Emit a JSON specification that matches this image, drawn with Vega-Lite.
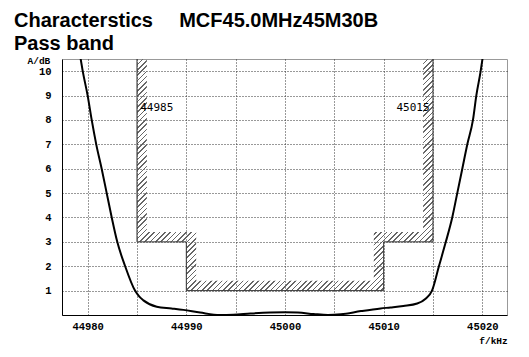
{
  "$schema": "https://vega.github.io/schema/vega-lite/v6.json",
  "width": 445,
  "height": 256,
  "autosize": "none",
  "padding": {"left": 62, "top": 59, "right": 22, "bottom": 42},
  "background": "white",
  "config": {
    "view": {"stroke": "#999", "strokeWidth": 1},
    "axis": {
      "domainColor": "#000", "domainWidth": 1, "ticks": false,
      "gridColor": "#333", "gridDash": [1, 2], "gridWidth": 1, "gridOpacity": 1,
      "labelFont": "Liberation Mono", "labelFontWeight": "bold", "labelFontSize": 10.5, "labelColor": "#000",
      "titleFont": "Liberation Mono", "titleFontWeight": "bold", "titleFontSize": 9.5, "titleColor": "#000"
    }
  },
  "title": {
    "text": ["Characterstics\u00a0\u00a0\u00a0\u00a0\u2009MCF45.0MHz45M30B", "Pass band"],
    "anchor": "start", "frame": "group", "dx": -48, "dy": 7, "offset": 8,
    "font": "Liberation Sans", "fontSize": 20, "fontWeight": "bold", "color": "#000", "lineHeight": 23
  },
  "datasets": {
    "curve": [
      {"f": 44979.25, "a": 10.6}, {"f": 44979.5, "a": 10}, {"f": 44980.0, "a": 9}, {"f": 44980.41, "a": 8},
      {"f": 44980.87, "a": 7}, {"f": 44981.42, "a": 6}, {"f": 44981.93, "a": 5}, {"f": 44982.44, "a": 4},
      {"f": 44983.0, "a": 3}, {"f": 44983.8, "a": 2}, {"f": 44984.8, "a": 1}, {"f": 44985.24, "a": 0.75},
      {"f": 44985.65, "a": 0.6}, {"f": 44987.0, "a": 0.34}, {"f": 44988.5, "a": 0.27}, {"f": 44989.7, "a": 0.21},
      {"f": 44991.4, "a": 0.1}, {"f": 44993.4, "a": 0.0}, {"f": 44994.75, "a": 0.01}, {"f": 44996.5, "a": 0.06},
      {"f": 44998.5, "a": 0.1}, {"f": 45000.0, "a": 0.11}, {"f": 45001.3, "a": 0.1}, {"f": 45002.9, "a": 0.04},
      {"f": 45004.35, "a": 0.0}, {"f": 45005.67, "a": 0.03}, {"f": 45007.7, "a": 0.16}, {"f": 45009.7, "a": 0.27},
      {"f": 45010.7, "a": 0.31}, {"f": 45012.0, "a": 0.37}, {"f": 45013.4, "a": 0.47}, {"f": 45014.25, "a": 0.67},
      {"f": 45014.9, "a": 1}, {"f": 45015.6, "a": 2}, {"f": 45016.3, "a": 3}, {"f": 45016.95, "a": 4},
      {"f": 45017.46, "a": 5}, {"f": 45017.97, "a": 6}, {"f": 45018.48, "a": 7}, {"f": 45019.05, "a": 8},
      {"f": 45019.39, "a": 9}, {"f": 45019.83, "a": 10}, {"f": 45020.05, "a": 10.6}
    ],
    "mask": [
      {"i": 0, "f": 44985, "a": 10.5}, {"i": 1, "f": 44985, "a": 3}, {"i": 2, "f": 44990, "a": 3},
      {"i": 3, "f": 44990, "a": 1}, {"i": 4, "f": 45010, "a": 1}, {"i": 5, "f": 45010, "a": 3},
      {"i": 6, "f": 45015, "a": 3}, {"i": 7, "f": 45015, "a": 10.5}
    ],
    "hatch": [
      {"f": 44985, "lo": 3, "hi": 10.5}, {"f": 44986, "lo": 3, "hi": 3.4}, {"f": 44990, "lo": 1, "hi": 3.4},
      {"f": 44991, "lo": 1, "hi": 1.4}, {"f": 45009, "lo": 1, "hi": 3.4}, {"f": 45010, "lo": 3, "hi": 3.4},
      {"f": 45014, "lo": 3, "hi": 10.5}, {"f": 45015, "lo": 3, "hi": 10.5}
    ],
    "labelLeft": [{"f": 44985.32, "a": 8.5, "t": "44985"}],
    "labelRight": [{"f": 45014.65, "a": 8.5, "t": "45015"}]
  },
  "encoding": {
    "x": {
      "field": "f", "type": "quantitative",
      "scale": {"domain": [44977.4, 45022.5], "nice": false, "zero": false},
      "axis": {
        "values": [44980, 44985, 44990, 44995, 45000, 45005, 45010, 45015, 45020],
        "format": "d", "labelExpr": "datum.value % 10 === 0 ? datum.label : ''",
        "labelPadding": 6, "labelFlush": false, "labelOverlap": false,
        "title": "f/kHz", "titleX": 431, "titleY": 25, "titleAlign": "center", "titleBaseline": "middle"
      }
    },
    "y": {
      "field": "a", "type": "quantitative",
      "scale": {"domain": [0, 10.5], "nice": false, "zero": false},
      "axis": {
        "values": [1, 2, 3, 4, 5, 6, 7, 8, 9, 10], "format": "d", "labelPadding": 11,
        "title": "A/dB", "titleAngle": 0, "titleX": -35, "titleY": 1, "titleAlign": "left", "titleBaseline": "middle"
      }
    }
  },
  "layer": [
    {
      "data": {"name": "hatch"},
      "mark": {
        "type": "area", "interpolate": "step-after", "clip": true,
        "fill": {
          "gradient": "linear", "x1": 0, "y1": 0, "x2": 1.1056, "y2": 0.865,
          "stops": [
{"offset":0.00,"color":"#666"},{"offset":0.003,"color":"#666"},{"offset":0.003,"color":"transparent"},{"offset":0.01,"color":"transparent"},
{"offset":0.01,"color":"#666"},{"offset":0.013,"color":"#666"},{"offset":0.013,"color":"transparent"},{"offset":0.02,"color":"transparent"},
{"offset":0.02,"color":"#666"},{"offset":0.023,"color":"#666"},{"offset":0.023,"color":"transparent"},{"offset":0.03,"color":"transparent"},
{"offset":0.03,"color":"#666"},{"offset":0.033,"color":"#666"},{"offset":0.033,"color":"transparent"},{"offset":0.04,"color":"transparent"},
{"offset":0.04,"color":"#666"},{"offset":0.043,"color":"#666"},{"offset":0.043,"color":"transparent"},{"offset":0.05,"color":"transparent"},
{"offset":0.05,"color":"#666"},{"offset":0.053,"color":"#666"},{"offset":0.053,"color":"transparent"},{"offset":0.06,"color":"transparent"},
{"offset":0.06,"color":"#666"},{"offset":0.063,"color":"#666"},{"offset":0.063,"color":"transparent"},{"offset":0.07,"color":"transparent"},
{"offset":0.07,"color":"#666"},{"offset":0.073,"color":"#666"},{"offset":0.073,"color":"transparent"},{"offset":0.08,"color":"transparent"},
{"offset":0.08,"color":"#666"},{"offset":0.083,"color":"#666"},{"offset":0.083,"color":"transparent"},{"offset":0.09,"color":"transparent"},
{"offset":0.09,"color":"#666"},{"offset":0.093,"color":"#666"},{"offset":0.093,"color":"transparent"},{"offset":0.10,"color":"transparent"},
{"offset":0.10,"color":"#666"},{"offset":0.103,"color":"#666"},{"offset":0.103,"color":"transparent"},{"offset":0.11,"color":"transparent"},
{"offset":0.11,"color":"#666"},{"offset":0.113,"color":"#666"},{"offset":0.113,"color":"transparent"},{"offset":0.12,"color":"transparent"},
{"offset":0.12,"color":"#666"},{"offset":0.123,"color":"#666"},{"offset":0.123,"color":"transparent"},{"offset":0.13,"color":"transparent"},
{"offset":0.13,"color":"#666"},{"offset":0.133,"color":"#666"},{"offset":0.133,"color":"transparent"},{"offset":0.14,"color":"transparent"},
{"offset":0.14,"color":"#666"},{"offset":0.143,"color":"#666"},{"offset":0.143,"color":"transparent"},{"offset":0.15,"color":"transparent"},
{"offset":0.15,"color":"#666"},{"offset":0.153,"color":"#666"},{"offset":0.153,"color":"transparent"},{"offset":0.16,"color":"transparent"},
{"offset":0.16,"color":"#666"},{"offset":0.163,"color":"#666"},{"offset":0.163,"color":"transparent"},{"offset":0.17,"color":"transparent"},
{"offset":0.17,"color":"#666"},{"offset":0.173,"color":"#666"},{"offset":0.173,"color":"transparent"},{"offset":0.18,"color":"transparent"},
{"offset":0.18,"color":"#666"},{"offset":0.183,"color":"#666"},{"offset":0.183,"color":"transparent"},{"offset":0.19,"color":"transparent"},
{"offset":0.19,"color":"#666"},{"offset":0.193,"color":"#666"},{"offset":0.193,"color":"transparent"},{"offset":0.20,"color":"transparent"},
{"offset":0.20,"color":"#666"},{"offset":0.203,"color":"#666"},{"offset":0.203,"color":"transparent"},{"offset":0.21,"color":"transparent"},
{"offset":0.21,"color":"#666"},{"offset":0.213,"color":"#666"},{"offset":0.213,"color":"transparent"},{"offset":0.22,"color":"transparent"},
{"offset":0.22,"color":"#666"},{"offset":0.223,"color":"#666"},{"offset":0.223,"color":"transparent"},{"offset":0.23,"color":"transparent"},
{"offset":0.23,"color":"#666"},{"offset":0.233,"color":"#666"},{"offset":0.233,"color":"transparent"},{"offset":0.24,"color":"transparent"},
{"offset":0.24,"color":"#666"},{"offset":0.243,"color":"#666"},{"offset":0.243,"color":"transparent"},{"offset":0.25,"color":"transparent"},
{"offset":0.25,"color":"#666"},{"offset":0.253,"color":"#666"},{"offset":0.253,"color":"transparent"},{"offset":0.26,"color":"transparent"},
{"offset":0.26,"color":"#666"},{"offset":0.263,"color":"#666"},{"offset":0.263,"color":"transparent"},{"offset":0.27,"color":"transparent"},
{"offset":0.27,"color":"#666"},{"offset":0.273,"color":"#666"},{"offset":0.273,"color":"transparent"},{"offset":0.28,"color":"transparent"},
{"offset":0.28,"color":"#666"},{"offset":0.283,"color":"#666"},{"offset":0.283,"color":"transparent"},{"offset":0.29,"color":"transparent"},
{"offset":0.29,"color":"#666"},{"offset":0.293,"color":"#666"},{"offset":0.293,"color":"transparent"},{"offset":0.30,"color":"transparent"},
{"offset":0.30,"color":"#666"},{"offset":0.303,"color":"#666"},{"offset":0.303,"color":"transparent"},{"offset":0.31,"color":"transparent"},
{"offset":0.31,"color":"#666"},{"offset":0.313,"color":"#666"},{"offset":0.313,"color":"transparent"},{"offset":0.32,"color":"transparent"},
{"offset":0.32,"color":"#666"},{"offset":0.323,"color":"#666"},{"offset":0.323,"color":"transparent"},{"offset":0.33,"color":"transparent"},
{"offset":0.33,"color":"#666"},{"offset":0.333,"color":"#666"},{"offset":0.333,"color":"transparent"},{"offset":0.34,"color":"transparent"},
{"offset":0.34,"color":"#666"},{"offset":0.343,"color":"#666"},{"offset":0.343,"color":"transparent"},{"offset":0.35,"color":"transparent"},
{"offset":0.35,"color":"#666"},{"offset":0.353,"color":"#666"},{"offset":0.353,"color":"transparent"},{"offset":0.36,"color":"transparent"},
{"offset":0.36,"color":"#666"},{"offset":0.363,"color":"#666"},{"offset":0.363,"color":"transparent"},{"offset":0.37,"color":"transparent"},
{"offset":0.37,"color":"#666"},{"offset":0.373,"color":"#666"},{"offset":0.373,"color":"transparent"},{"offset":0.38,"color":"transparent"},
{"offset":0.38,"color":"#666"},{"offset":0.383,"color":"#666"},{"offset":0.383,"color":"transparent"},{"offset":0.39,"color":"transparent"},
{"offset":0.39,"color":"#666"},{"offset":0.393,"color":"#666"},{"offset":0.393,"color":"transparent"},{"offset":0.40,"color":"transparent"},
{"offset":0.40,"color":"#666"},{"offset":0.403,"color":"#666"},{"offset":0.403,"color":"transparent"},{"offset":0.41,"color":"transparent"},
{"offset":0.41,"color":"#666"},{"offset":0.413,"color":"#666"},{"offset":0.413,"color":"transparent"},{"offset":0.42,"color":"transparent"},
{"offset":0.42,"color":"#666"},{"offset":0.423,"color":"#666"},{"offset":0.423,"color":"transparent"},{"offset":0.43,"color":"transparent"},
{"offset":0.43,"color":"#666"},{"offset":0.433,"color":"#666"},{"offset":0.433,"color":"transparent"},{"offset":0.44,"color":"transparent"},
{"offset":0.44,"color":"#666"},{"offset":0.443,"color":"#666"},{"offset":0.443,"color":"transparent"},{"offset":0.45,"color":"transparent"},
{"offset":0.45,"color":"#666"},{"offset":0.453,"color":"#666"},{"offset":0.453,"color":"transparent"},{"offset":0.46,"color":"transparent"},
{"offset":0.46,"color":"#666"},{"offset":0.463,"color":"#666"},{"offset":0.463,"color":"transparent"},{"offset":0.47,"color":"transparent"},
{"offset":0.47,"color":"#666"},{"offset":0.473,"color":"#666"},{"offset":0.473,"color":"transparent"},{"offset":0.48,"color":"transparent"},
{"offset":0.48,"color":"#666"},{"offset":0.483,"color":"#666"},{"offset":0.483,"color":"transparent"},{"offset":0.49,"color":"transparent"},
{"offset":0.49,"color":"#666"},{"offset":0.493,"color":"#666"},{"offset":0.493,"color":"transparent"},{"offset":0.50,"color":"transparent"},
{"offset":0.50,"color":"#666"},{"offset":0.503,"color":"#666"},{"offset":0.503,"color":"transparent"},{"offset":0.51,"color":"transparent"},
{"offset":0.51,"color":"#666"},{"offset":0.513,"color":"#666"},{"offset":0.513,"color":"transparent"},{"offset":0.52,"color":"transparent"},
{"offset":0.52,"color":"#666"},{"offset":0.523,"color":"#666"},{"offset":0.523,"color":"transparent"},{"offset":0.53,"color":"transparent"},
{"offset":0.53,"color":"#666"},{"offset":0.533,"color":"#666"},{"offset":0.533,"color":"transparent"},{"offset":0.54,"color":"transparent"},
{"offset":0.54,"color":"#666"},{"offset":0.543,"color":"#666"},{"offset":0.543,"color":"transparent"},{"offset":0.55,"color":"transparent"},
{"offset":0.55,"color":"#666"},{"offset":0.553,"color":"#666"},{"offset":0.553,"color":"transparent"},{"offset":0.56,"color":"transparent"},
{"offset":0.56,"color":"#666"},{"offset":0.563,"color":"#666"},{"offset":0.563,"color":"transparent"},{"offset":0.57,"color":"transparent"},
{"offset":0.57,"color":"#666"},{"offset":0.573,"color":"#666"},{"offset":0.573,"color":"transparent"},{"offset":0.58,"color":"transparent"},
{"offset":0.58,"color":"#666"},{"offset":0.583,"color":"#666"},{"offset":0.583,"color":"transparent"},{"offset":0.59,"color":"transparent"},
{"offset":0.59,"color":"#666"},{"offset":0.593,"color":"#666"},{"offset":0.593,"color":"transparent"},{"offset":0.60,"color":"transparent"},
{"offset":0.60,"color":"#666"},{"offset":0.603,"color":"#666"},{"offset":0.603,"color":"transparent"},{"offset":0.61,"color":"transparent"},
{"offset":0.61,"color":"#666"},{"offset":0.613,"color":"#666"},{"offset":0.613,"color":"transparent"},{"offset":0.62,"color":"transparent"},
{"offset":0.62,"color":"#666"},{"offset":0.623,"color":"#666"},{"offset":0.623,"color":"transparent"},{"offset":0.63,"color":"transparent"},
{"offset":0.63,"color":"#666"},{"offset":0.633,"color":"#666"},{"offset":0.633,"color":"transparent"},{"offset":0.64,"color":"transparent"},
{"offset":0.64,"color":"#666"},{"offset":0.643,"color":"#666"},{"offset":0.643,"color":"transparent"},{"offset":0.65,"color":"transparent"},
{"offset":0.65,"color":"#666"},{"offset":0.653,"color":"#666"},{"offset":0.653,"color":"transparent"},{"offset":0.66,"color":"transparent"},
{"offset":0.66,"color":"#666"},{"offset":0.663,"color":"#666"},{"offset":0.663,"color":"transparent"},{"offset":0.67,"color":"transparent"},
{"offset":0.67,"color":"#666"},{"offset":0.673,"color":"#666"},{"offset":0.673,"color":"transparent"},{"offset":0.68,"color":"transparent"},
{"offset":0.68,"color":"#666"},{"offset":0.683,"color":"#666"},{"offset":0.683,"color":"transparent"},{"offset":0.69,"color":"transparent"},
{"offset":0.69,"color":"#666"},{"offset":0.693,"color":"#666"},{"offset":0.693,"color":"transparent"},{"offset":0.70,"color":"transparent"},
{"offset":0.70,"color":"#666"},{"offset":0.703,"color":"#666"},{"offset":0.703,"color":"transparent"},{"offset":0.71,"color":"transparent"},
{"offset":0.71,"color":"#666"},{"offset":0.713,"color":"#666"},{"offset":0.713,"color":"transparent"},{"offset":0.72,"color":"transparent"},
{"offset":0.72,"color":"#666"},{"offset":0.723,"color":"#666"},{"offset":0.723,"color":"transparent"},{"offset":0.73,"color":"transparent"},
{"offset":0.73,"color":"#666"},{"offset":0.733,"color":"#666"},{"offset":0.733,"color":"transparent"},{"offset":0.74,"color":"transparent"},
{"offset":0.74,"color":"#666"},{"offset":0.743,"color":"#666"},{"offset":0.743,"color":"transparent"},{"offset":0.75,"color":"transparent"},
{"offset":0.75,"color":"#666"},{"offset":0.753,"color":"#666"},{"offset":0.753,"color":"transparent"},{"offset":0.76,"color":"transparent"},
{"offset":0.76,"color":"#666"},{"offset":0.763,"color":"#666"},{"offset":0.763,"color":"transparent"},{"offset":0.77,"color":"transparent"},
{"offset":0.77,"color":"#666"},{"offset":0.773,"color":"#666"},{"offset":0.773,"color":"transparent"},{"offset":0.78,"color":"transparent"},
{"offset":0.78,"color":"#666"},{"offset":0.783,"color":"#666"},{"offset":0.783,"color":"transparent"},{"offset":0.79,"color":"transparent"},
{"offset":0.79,"color":"#666"},{"offset":0.793,"color":"#666"},{"offset":0.793,"color":"transparent"},{"offset":0.80,"color":"transparent"},
{"offset":0.80,"color":"#666"},{"offset":0.803,"color":"#666"},{"offset":0.803,"color":"transparent"},{"offset":0.81,"color":"transparent"},
{"offset":0.81,"color":"#666"},{"offset":0.813,"color":"#666"},{"offset":0.813,"color":"transparent"},{"offset":0.82,"color":"transparent"},
{"offset":0.82,"color":"#666"},{"offset":0.823,"color":"#666"},{"offset":0.823,"color":"transparent"},{"offset":0.83,"color":"transparent"},
{"offset":0.83,"color":"#666"},{"offset":0.833,"color":"#666"},{"offset":0.833,"color":"transparent"},{"offset":0.84,"color":"transparent"},
{"offset":0.84,"color":"#666"},{"offset":0.843,"color":"#666"},{"offset":0.843,"color":"transparent"},{"offset":0.85,"color":"transparent"},
{"offset":0.85,"color":"#666"},{"offset":0.853,"color":"#666"},{"offset":0.853,"color":"transparent"},{"offset":0.86,"color":"transparent"},
{"offset":0.86,"color":"#666"},{"offset":0.863,"color":"#666"},{"offset":0.863,"color":"transparent"},{"offset":0.87,"color":"transparent"},
{"offset":0.87,"color":"#666"},{"offset":0.873,"color":"#666"},{"offset":0.873,"color":"transparent"},{"offset":0.88,"color":"transparent"},
{"offset":0.88,"color":"#666"},{"offset":0.883,"color":"#666"},{"offset":0.883,"color":"transparent"},{"offset":0.89,"color":"transparent"},
{"offset":0.89,"color":"#666"},{"offset":0.893,"color":"#666"},{"offset":0.893,"color":"transparent"},{"offset":0.90,"color":"transparent"},
{"offset":0.90,"color":"#666"},{"offset":0.903,"color":"#666"},{"offset":0.903,"color":"transparent"},{"offset":0.91,"color":"transparent"},
{"offset":0.91,"color":"#666"},{"offset":0.913,"color":"#666"},{"offset":0.913,"color":"transparent"},{"offset":0.92,"color":"transparent"},
{"offset":0.92,"color":"#666"},{"offset":0.923,"color":"#666"},{"offset":0.923,"color":"transparent"},{"offset":0.93,"color":"transparent"},
{"offset":0.93,"color":"#666"},{"offset":0.933,"color":"#666"},{"offset":0.933,"color":"transparent"},{"offset":0.94,"color":"transparent"},
{"offset":0.94,"color":"#666"},{"offset":0.943,"color":"#666"},{"offset":0.943,"color":"transparent"},{"offset":0.95,"color":"transparent"},
{"offset":0.95,"color":"#666"},{"offset":0.953,"color":"#666"},{"offset":0.953,"color":"transparent"},{"offset":0.96,"color":"transparent"},
{"offset":0.96,"color":"#666"},{"offset":0.963,"color":"#666"},{"offset":0.963,"color":"transparent"},{"offset":0.97,"color":"transparent"},
{"offset":0.97,"color":"#666"},{"offset":0.973,"color":"#666"},{"offset":0.973,"color":"transparent"},{"offset":0.98,"color":"transparent"},
{"offset":0.98,"color":"#666"},{"offset":0.983,"color":"#666"},{"offset":0.983,"color":"transparent"},{"offset":0.99,"color":"transparent"},
{"offset":0.99,"color":"#666"},{"offset":0.993,"color":"#666"},{"offset":0.993,"color":"transparent"},{"offset":1.0,"color":"transparent"}
          ]
        }
      },
      "encoding": {
        "y": {"field": "hi", "type": "quantitative"},
        "y2": {"field": "lo"}
      }
    },
    {
      "data": {"name": "mask"},
      "mark": {"type": "line", "color": "#333", "strokeWidth": 1, "clip": true},
      "encoding": {"order": {"field": "i", "type": "quantitative"}}
    },
    {
      "data": {"name": "curve"},
      "mark": {"type": "line", "color": "#000", "strokeWidth": 2, "interpolate": "monotone", "clip": true},
      "encoding": {}
    },
    {
      "data": {"name": "labelLeft"},
      "mark": {"type": "text", "font": "DejaVu Sans Mono", "fontSize": 11, "color": "#000", "baseline": "middle", "align": "left"},
      "encoding": {"text": {"field": "t"}}
    },
    {
      "data": {"name": "labelRight"},
      "mark": {"type": "text", "font": "DejaVu Sans Mono", "fontSize": 11, "color": "#000", "baseline": "middle", "align": "right"},
      "encoding": {"text": {"field": "t"}}
    },
    {
      "data": {"values": [{}]},
      "mark": {"type": "rule", "color": "#000", "strokeWidth": 1, "clip": false},
      "encoding": {
        "x": {"datum": 44973.2, "type": "quantitative"},
        "y": {"datum": 9.47, "type": "quantitative"},
        "y2": {"datum": 10.45}
      }
    },
    {
      "data": {"values": [{}]},
      "mark": {"type": "point", "shape": "triangle-up", "size": 10, "filled": true, "color": "#000", "opacity": 1, "clip": false},
      "encoding": {
        "x": {"datum": 44973.2, "type": "quantitative"},
        "y": {"datum": 10.38, "type": "quantitative"}
      }
    },
    {
      "data": {"values": [{}]},
      "mark": {"type": "rule", "color": "#000", "strokeWidth": 1, "clip": false},
      "encoding": {
        "x": {"datum": 45019.4, "type": "quantitative"},
        "x2": {"datum": 45022.7},
        "y": {"datum": -0.71, "type": "quantitative"}
      }
    },
    {
      "data": {"values": [{}]},
      "mark": {"type": "point", "shape": "triangle-right", "size": 10, "filled": true, "color": "#000", "opacity": 1, "clip": false},
      "encoding": {
        "x": {"datum": 45022.2, "type": "quantitative"},
        "y": {"datum": -0.6, "type": "quantitative"}
      }
    }
  ]
}
